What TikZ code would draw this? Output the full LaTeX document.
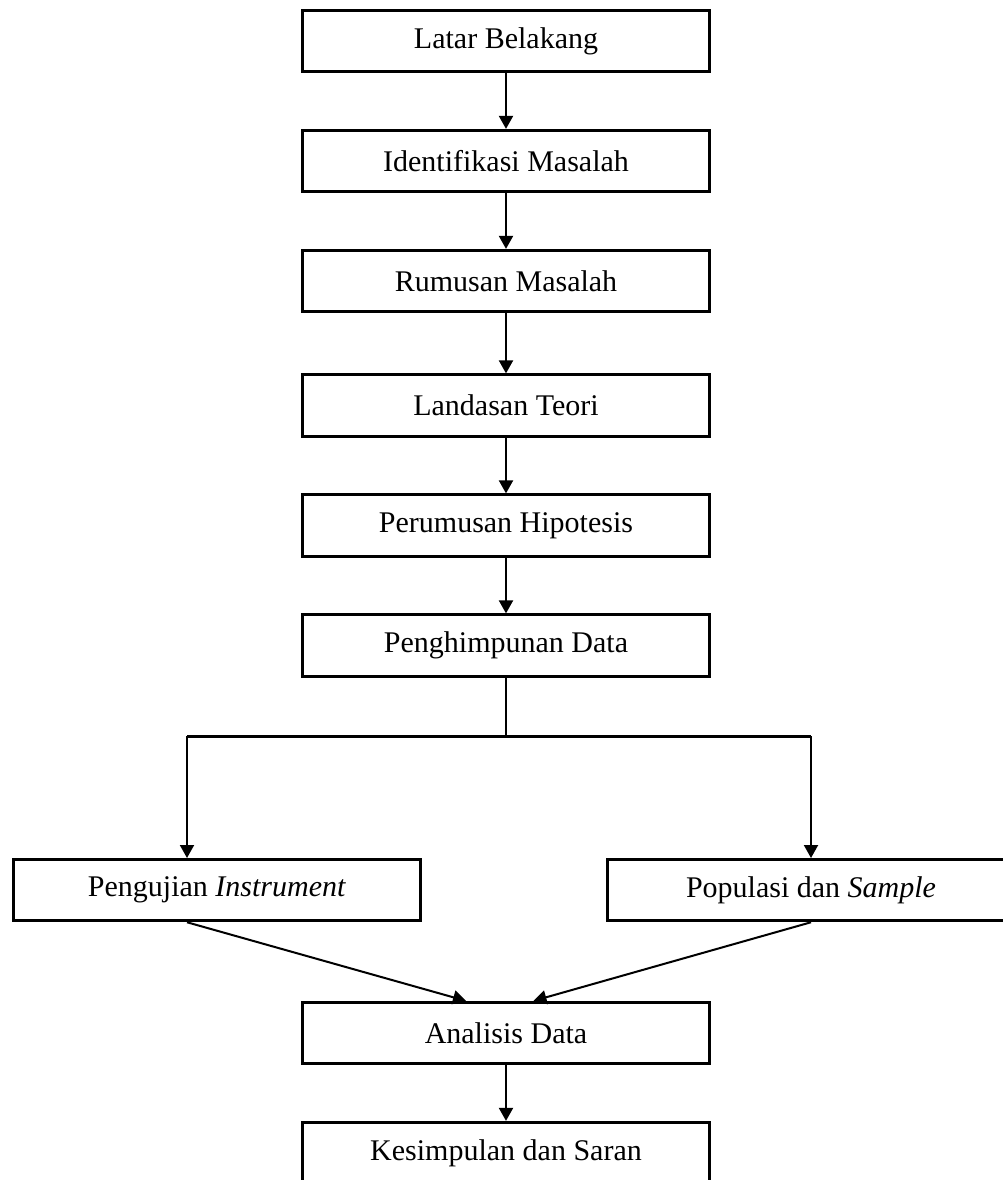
\documentclass[tikz,border=0pt]{standalone}
\usepackage{fontspec}
\setmainfont{Liberation Serif}
\usetikzlibrary{arrows.meta,positioning}

\begin{document}
\begin{tikzpicture}[
      node distance=48pt,on grid,>={Triangle[length=5.2pt,width=5.6pt]},
      block/.style={rectangle,draw,line width=1.2pt,minimum width=162.5pt,minimum height=24.5pt,inner sep=0pt,font=\fontsize{12pt}{14pt}\selectfont},
      link/.style={line width=0.8pt}
      ]
      \useasboundingbox (0,0) rectangle (401.2pt,-472pt);

      \node[block] (latar) at (202.4pt,-16.4pt) {Latar Belakang};
      \node[block, below=of latar] (ident) {Identifikasi Masalah};
      \node[block, below=of ident] (rumus) {Rumusan Masalah};
      \node[block, below=49.8pt of rumus] (teori) {Landasan Teori};
      \node[block, below=of teori] (hipo) {Perumusan Hipotesis};
      \node[block, below=of hipo] (himpun) {Penghimpunan Data};
      % cabang ke dua kotak
      \coordinate[below=36.2pt of himpun] (split);
      \coordinate[left=127.6pt of split] (splitL);
      \coordinate[right=122pt of split] (splitR);
      \node[block, below=48.8pt of splitL, xshift=12pt] (instr) {Pengujian \textit{Instrument}};
      \node[block, below=48.8pt of splitR] (popul) {Populasi dan \textit{Sample}};
      \node[block, below=155pt of himpun] (analisis) {Analisis Data};
      \node[block, below=of analisis] (simpul) {Kesimpulan dan Saran};

      \draw[link,->] (latar) -- (ident);
      \draw[link,->] (ident) -- (rumus);
      \draw[link,->] (rumus) -- (teori);
      \draw[link,->] (teori) -- (hipo);
      \draw[link,->] (hipo) -- (himpun);
      \draw[link] (himpun) -- (split);
      \draw[line width=1.2pt] (splitL) -- (splitR);
      \draw[link,->] (splitL) -- (splitL |- instr.north);
      \draw[link,->] (splitR) -- (popul);
      \draw[link,->] (splitL |- instr.south) -- ([xshift=-16pt]analisis.north);
      \draw[link,->] (popul.south) -- ([xshift=11pt]analisis.north);
      \draw[link,->] (analisis) -- (simpul);
\end{tikzpicture}
\end{document}
